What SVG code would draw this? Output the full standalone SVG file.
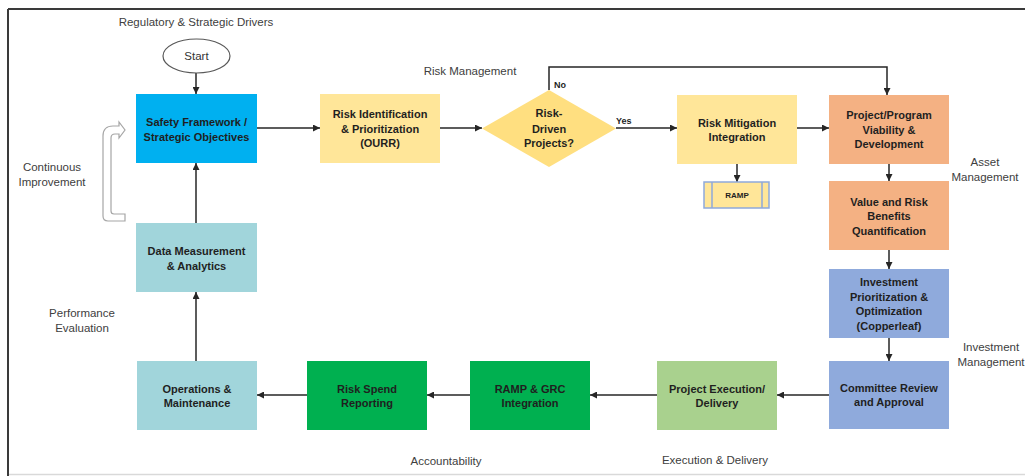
<svg xmlns="http://www.w3.org/2000/svg" width="1025" height="476" viewBox="0 0 1025 476">
<style>
.n{font-family:"Liberation Sans",Arial,sans-serif;font-size:11px;font-weight:bold;fill:#1f1f1f;text-anchor:middle}
.l{font-family:"Liberation Sans",Arial,sans-serif;font-size:11.5px;fill:#404040;text-anchor:middle}
.s{font-family:"Liberation Sans",Arial,sans-serif;font-size:9px;font-weight:bold;fill:#1f1f1f}
.c{stroke:#262626;stroke-width:1.5;fill:none}
</style>
<defs>
<marker id="ah" viewBox="0 0 10 10" refX="10" refY="5" markerWidth="7" markerHeight="7" markerUnits="userSpaceOnUse" orient="auto">
<path d="M0,0 L10,5 L0,10 Z" fill="#262626"/>
</marker>
</defs>
<rect width="1025" height="476" fill="#fff"/>
<g id="frame">
<line x1="8" y1="9" x2="1025" y2="9" stroke="#3a3a3a" stroke-width="2"/>
<line x1="8" y1="9" x2="8" y2="476" stroke="#3a3a3a" stroke-width="2"/>
<line x1="9" y1="474.5" x2="1025" y2="474.5" stroke="#d9d9d9" stroke-width="1.5"/>
</g>
<g id="labels">
<text class="l" x="196" y="26">Regulatory &amp; Strategic Drivers</text>
<text class="l" x="470" y="75">Risk Management</text>
<text class="l" x="52" y="171">Continuous</text>
<text class="l" x="52" y="186">Improvement</text>
<text class="l" x="82" y="317">Performance</text>
<text class="l" x="82" y="332">Evaluation</text>
<text class="l" x="985" y="166">Asset</text>
<text class="l" x="985" y="181">Management</text>
<text class="l" x="991" y="351">Investment</text>
<text class="l" x="991" y="366">Management</text>
<text class="l" x="446" y="465">Accountability</text>
<text class="l" x="715" y="464">Execution &amp; Delivery</text>
</g>
<g id="connectors">
<line class="c" x1="196" y1="73" x2="196" y2="94" marker-end="url(#ah)"/>
<line class="c" x1="257" y1="128" x2="320" y2="128" marker-end="url(#ah)"/>
<line class="c" x1="440" y1="128" x2="482" y2="128" marker-end="url(#ah)"/>
<line class="c" x1="616" y1="128" x2="677" y2="128" marker-end="url(#ah)"/>
<polyline class="c" points="549,90 549,67 887,67 887,95" marker-end="url(#ah)"/>
<line class="c" x1="797" y1="128" x2="829" y2="128" marker-end="url(#ah)"/>
<line class="c" x1="737" y1="164" x2="737" y2="182" marker-end="url(#ah)"/>
<line class="c" x1="889" y1="164" x2="889" y2="181" marker-end="url(#ah)"/>
<line class="c" x1="889" y1="250" x2="889" y2="269" marker-end="url(#ah)"/>
<line class="c" x1="889" y1="338" x2="889" y2="361" marker-end="url(#ah)"/>
<line class="c" x1="829" y1="395" x2="777" y2="395" marker-end="url(#ah)"/>
<line class="c" x1="657" y1="395" x2="590" y2="395" marker-end="url(#ah)"/>
<line class="c" x1="470" y1="395" x2="427" y2="395" marker-end="url(#ah)"/>
<line class="c" x1="307" y1="395" x2="257" y2="395" marker-end="url(#ah)"/>
<line class="c" x1="196" y1="361" x2="196" y2="292" marker-end="url(#ah)"/>
<line class="c" x1="196" y1="223" x2="196" y2="163" marker-end="url(#ah)"/>
<text class="s" x="616" y="124">Yes</text>
<text class="s" x="554" y="88">No</text>
<path d="M125,214 L114,214 Q111,214 111,211 L111,138 Q111,134 115,134 L119,134 L119,138 L125,130 L119,122 L119,126 L113,126 Q103,126 103,136 L103,216 Q103,221 108,221 L125,221 Z" fill="#fff" stroke="#a6a6a6" stroke-width="1.2"/>
</g>
<g id="start">
<ellipse cx="196.5" cy="56" rx="33.5" ry="17" fill="#fff" stroke="#595959" stroke-width="1.2"/>
<text class="l" x="196.5" y="60" style="fill:#333">Start</text>
</g>
<g id="safety">
<rect x="136" y="94" width="121" height="69" fill="#00b0f0"/>
<text class="n" x="196.5" y="126">Safety Framework /</text>
<text class="n" x="196.5" y="141">Strategic Objectives</text>
</g>
<g id="riskid">
<rect x="320" y="94" width="120" height="69" fill="#ffe699"/>
<text class="n" x="380" y="118">Risk Identification</text>
<text class="n" x="380" y="133">&amp; Prioritization</text>
<text class="n" x="380" y="147">(OURR)</text>
</g>
<g id="decision">
<polygon points="549,90 616,128.5 549,167 482,128.5" fill="#ffdf80"/>
<text class="n" x="549" y="117">Risk-</text>
<text class="n" x="549" y="133">Driven</text>
<text class="n" x="549" y="147">Projects?</text>
</g>
<g id="mitigation">
<rect x="677" y="95" width="120" height="69" fill="#ffe699"/>
<text class="n" x="737" y="127">Risk Mitigation</text>
<text class="n" x="737" y="141">Integration</text>
</g>
<g id="ramp">
<rect x="704" y="182" width="65" height="26" fill="#ffe699" stroke="#8ea9db" stroke-width="1.5"/>
<line x1="712" y1="182" x2="712" y2="208" stroke="#8ea9db" stroke-width="1.5"/>
<line x1="762" y1="182" x2="762" y2="208" stroke="#8ea9db" stroke-width="1.5"/>
<text class="n" x="737" y="198" style="font-size:8px">RAMP</text>
</g>
<g id="viability">
<rect x="829" y="95" width="120" height="69" fill="#f4b183"/>
<text class="n" x="889" y="119">Project/Program</text>
<text class="n" x="889" y="134">Viability  &amp;</text>
<text class="n" x="889" y="148">Development</text>
</g>
<g id="value">
<rect x="829" y="181" width="120" height="69" fill="#f4b183"/>
<text class="n" x="889" y="206">Value and Risk</text>
<text class="n" x="889" y="220">Benefits</text>
<text class="n" x="889" y="235">Quantification</text>
</g>
<g id="investment">
<rect x="829" y="269" width="120" height="69" fill="#8faadc"/>
<text class="n" x="889" y="286">Investment</text>
<text class="n" x="889" y="301">Prioritization &amp;</text>
<text class="n" x="889" y="315">Optimization</text>
<text class="n" x="889" y="330">(Copperleaf)</text>
</g>
<g id="committee">
<rect x="829" y="361" width="120" height="68" fill="#8faadc"/>
<text class="n" x="889" y="392">Committee Review</text>
<text class="n" x="889" y="406">and Approval</text>
</g>
<g id="execution">
<rect x="657" y="361" width="120" height="69" fill="#a9d18e"/>
<text class="n" x="717" y="393">Project Execution/</text>
<text class="n" x="717" y="407">Delivery</text>
</g>
<g id="rampgrc">
<rect x="470" y="361" width="120" height="69" fill="#00b050"/>
<text class="n" x="530" y="393">RAMP &amp; GRC</text>
<text class="n" x="530" y="407">Integration</text>
</g>
<g id="riskspend">
<rect x="307" y="361" width="120" height="69" fill="#00b050"/>
<text class="n" x="367" y="393">Risk Spend</text>
<text class="n" x="367" y="407">Reporting</text>
</g>
<g id="operations">
<rect x="137" y="361" width="120" height="69" fill="#a1d5db"/>
<text class="n" x="197" y="393">Operations &amp;</text>
<text class="n" x="197" y="407">Maintenance</text>
</g>
<g id="data">
<rect x="136" y="223" width="121" height="69" fill="#a1d5db"/>
<text class="n" x="196.5" y="255">Data Measurement</text>
<text class="n" x="196.5" y="270">&amp; Analytics</text>
</g>
</svg>
